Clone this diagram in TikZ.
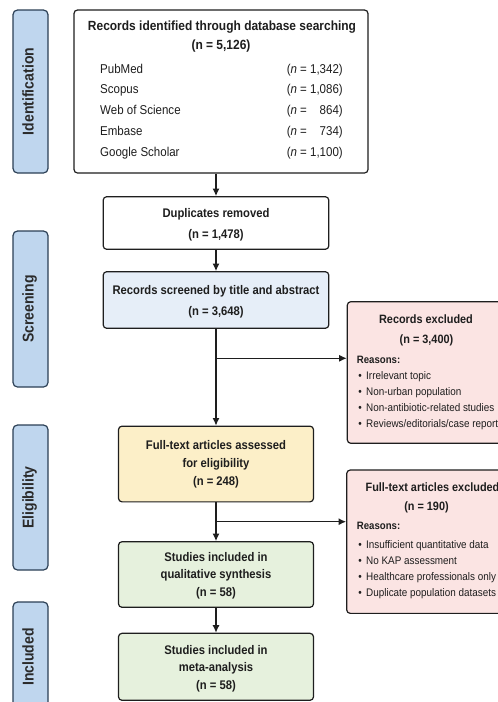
\documentclass[tikz,border=0pt]{standalone}
\usepackage{fontspec}
\setmainfont{Liberation Sans}[FakeStretch=0.9]
\usetikzlibrary{arrows.meta}
\definecolor{sidefill}{HTML}{BFD6EE}
\definecolor{sidedraw}{HTML}{2B3F55}
\definecolor{sidetext}{HTML}{2A2A2A}
\definecolor{bluefill}{HTML}{E6EEF8}
\definecolor{yellowfill}{HTML}{FCEFC8}
\definecolor{greenfill}{HTML}{E6F1DD}
\definecolor{pinkfill}{HTML}{FBE4E3}
\definecolor{ink}{HTML}{1E1E1E}
\begin{document}
\begin{tikzpicture}[x=1pt,y=-1pt,
  frame/.style={draw=ink, line width=1.2pt, rounded corners=3.5pt, inner sep=0pt},
  side/.style={draw=sidedraw, fill=sidefill, line width=1.2pt, rounded corners=4.5pt, inner sep=0pt, minimum width=35pt},
  txt/.style={inner sep=0pt, text=ink, text height=0.72em, text depth=0.1em},
  sidelabel/.style={txt, rotate=90, text=sidetext, font=\fontsize{15.6}{17}\selectfont\bfseries},
  ttl/.style={txt, font=\fontsize{12.5}{14}\selectfont\bfseries},
  bigttl/.style={txt, font=\fontsize{13.3}{15}\selectfont\bfseries},
  lst/.style={txt, font=\fontsize{12.8}{14}\selectfont},
  extl/.style={txt, font=\fontsize{12.1}{14}\selectfont\bfseries},
  reas/.style={txt, anchor=west, font=\fontsize{10.7}{12}\selectfont\bfseries},
  item/.style={txt, anchor=west, font=\fontsize{11}{12}\selectfont},
  bul/.style={txt, font=\fontsize{11}{12}\selectfont},
  arr/.style={draw=ink, line width=1.2pt, -{Latex[length=7.5pt,width=7pt]}}
]
\useasboundingbox (0,0) rectangle (498,702);
\clip (0,0) rectangle (498,702);

% phase sidebars
\node[side, minimum height=163pt] (sid1) at (30.5,91.5) {};
\node[sidelabel] (sidt1) at (sid1.center) {Identification};
\node[side, minimum height=156pt] (sid2) at (30.5,309) {};
\node[sidelabel] (sidt2) at (sid2.center) {Screening};
\node[side, minimum height=145pt] (sid3) at (30.5,497.5) {};
\node[sidelabel] (sidt3) at (sid3.center) {Eligibility};
\node[side, minimum height=110pt] (sid4) at (30.5,657) {};
\node[sidelabel] (sidt4) at (sid4.center) {Included};

% box 1
\node[frame, fill=white, minimum width=294pt, minimum height=163pt] (b1) at (221,91.5) {};
\node[bigttl] (b1t) at (222,27) {Records identified through database searching};
\node[bigttl] (b1n) at (221,46.5) {(n = 5,126)};
\node[lst, anchor=west] (l1) at (100,70) {PubMed};
\node[lst, anchor=west] (l2) at (100,90.7) {Scopus};
\node[lst, anchor=west] (l3) at (100,111) {Web of Science};
\node[lst, anchor=west] (l4) at (100,132.3) {Embase};
\node[lst, anchor=west] (l5) at (100,153.3) {Google Scholar};
\node[lst, anchor=east] (n1) at (343,70) {(\textit{n} = 1,342)};
\node[lst, anchor=east] (n2) at (343,90.7) {(\textit{n} = 1,086)};
\node[lst, anchor=east] (n3) at (343,111) {(\textit{n} = \hphantom{1,}864)};
\node[lst, anchor=east] (n4) at (343,132.3) {(\textit{n} = \hphantom{1,}734)};
\node[lst, anchor=east] (n5) at (343,153.3) {(\textit{n} = 1,100)};

% box 2
\node[frame, fill=white, minimum width=225.6pt, minimum height=52.6pt] (b2) at (216,223) {};
\node[ttl] (b2t) at (216,214) {Duplicates removed};
\node[ttl] (b2n) at (216,235) {(n = 1,478)};

% box 3
\node[frame, fill=bluefill, minimum width=225.6pt, minimum height=56.6pt] (b3) at (216,300) {};
\node[ttl] (b3t) at (216,291.5) {Records screened by title and abstract};
\node[ttl] (b3n) at (216,312.5) {(n = 3,648)};

% box 4
\node[frame, fill=yellowfill, minimum width=195pt, minimum height=75.7pt] (b4) at (216,464) {};
\node[ttl] (b4t) at (216,446) {Full-text articles assessed};
\node[ttl] (b4u) at (216,464.3) {for eligibility};
\node[ttl] (b4n) at (216,482.7) {(n = 248)};

% box 5
\node[frame, fill=greenfill, minimum width=195pt, minimum height=65.6pt] (b5) at (216,574.5) {};
\node[ttl] (b5t) at (216,558.3) {Studies included in};
\node[ttl] (b5u) at (216,575) {qualitative synthesis};
\node[ttl] (b5n) at (216,593.3) {(n = 58)};

% box 6
\node[frame, fill=greenfill, minimum width=195pt, minimum height=67pt] (b6) at (216,666.8) {};
\node[ttl] (b6t) at (216,651.7) {Studies included in};
\node[ttl] (b6u) at (216,668.3) {meta-analysis};
\node[ttl] (b6n) at (216,686.7) {(n = 58)};

% excluded 1
\node[frame, fill=pinkfill, minimum width=160pt, minimum height=141.6pt] (e1) at (427.3,372.5) {};
\node[extl] (e1t) at (426,320) {Records excluded};
\node[extl] (e1n) at (426.5,340) {(n = 3,400)};
\node[reas] (e1r) at (356.7,360.7) {Reasons:};
\node[bul] (e1b1) at (360,376) {\textbullet};
\node[item] (e1i1) at (366,376) {Irrelevant topic};
\node[bul] (e1b2) at (360,392.3) {\textbullet};
\node[item] (e1i2) at (366,392.3) {Non-urban population};
\node[bul] (e1b3) at (360,408.3) {\textbullet};
\node[item] (e1i3) at (366,408.3) {Non-antibiotic-related studies};
\node[bul] (e1b4) at (360,424.3) {\textbullet};
\node[item] (e1i4) at (366,424.3) {Reviews/editorials/case reports};

% excluded 2
\node[frame, fill=pinkfill, minimum width=161pt, minimum height=143.3pt] (e2) at (427.2,541.7) {};
\node[extl] (e2t) at (432.5,488.3) {Full-text articles excluded};
\node[extl] (e2n) at (426.5,507.7) {(n = 190)};
\node[reas] (e2r) at (356.7,526.7) {Reasons:};
\node[bul] (e2b1) at (360,545) {\textbullet};
\node[item] (e2i1) at (366,545) {Insufficient quantitative data};
\node[bul] (e2b2) at (360,561.7) {\textbullet};
\node[item] (e2i2) at (366,561.7) {No KAP assessment};
\node[bul] (e2b3) at (360,577.3) {\textbullet};
\node[item] (e2i3) at (366,577.3) {Healthcare professionals only};
\node[bul] (e2b4) at (360,593.3) {\textbullet};
\node[item] (e2i4) at (366,593.3) {Duplicate population datasets};

% connectors
\coordinate (j1) at (216,358.3);
\coordinate (j2) at (216,521.7);
\draw[arr] (b1.south -| b2.north) -- (b2.north);
\draw[arr] (b2.south) -- (b3.north);
\draw[arr] (b3.south) -- (b4.north);
\draw[arr] (j1) -- (j1 -| e1.west);
\draw[arr] (b4.south) -- (b5.north);
\draw[arr] (j2) -- (j2 -| e2.west);
\draw[arr] (b5.south) -- (b6.north);
\end{tikzpicture}
\end{document}
